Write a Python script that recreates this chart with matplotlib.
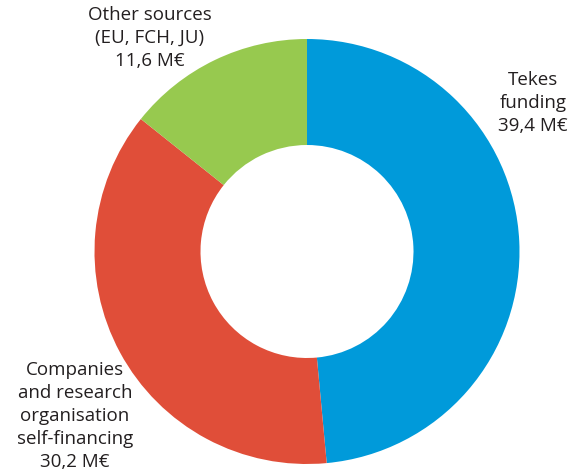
import matplotlib.pyplot as plt

# funding sources, M€
labels = ['Tekes\nfunding\n39,4 M€',
          'Companies\nand research\norganisation\nself-financing\n30,2 M€',
          'Other sources\n(EU, FCH, JU)\n11,6 M€']
values = [39.4, 30.2, 11.6]
colors = ['#009ADA', '#E04E39', '#97C94F']

W, H = 579, 477
fig = plt.figure(figsize=(W / 100, H / 100), dpi=100)
ax = fig.add_axes([0, 0, 1, 1])

ax.pie(values, colors=colors, startangle=90, counterclock=False,
       center=(307, H - 252.5), radius=212.5,
       wedgeprops=dict(width=106, linewidth=0), frame=True)
ax.set_xlim(0, W)
ax.set_ylim(0, H)
ax.set_aspect('equal')
ax.axis('off')

# label positions in pixels (centre of text block)
label_pos = [(533, 103), (75, 416), (150, 38)]
for lab, (x, y) in zip(labels, label_pos):
    ax.text(x, H - y, lab, ha='center', va='center', fontsize=13.5,
            family='Open Sans', color='#231F20', linespacing=1.36)

fig.savefig('out.png', dpi=100)
